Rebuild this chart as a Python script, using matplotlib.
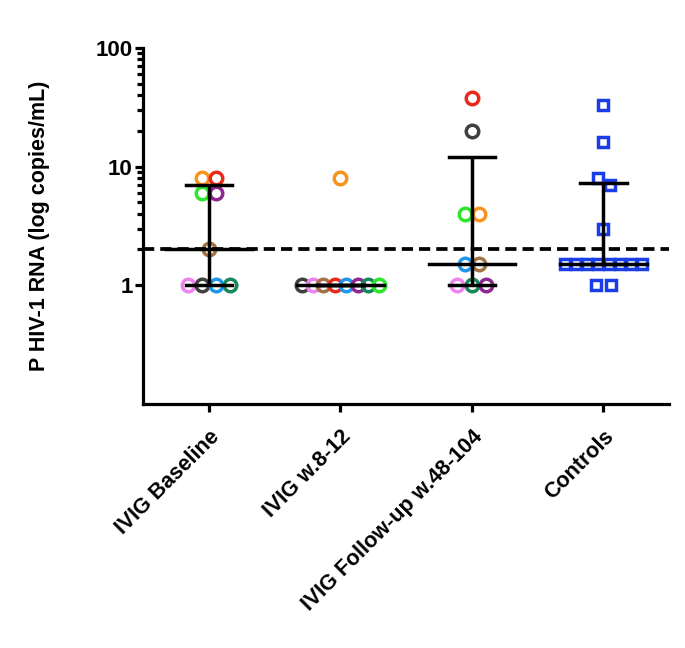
import matplotlib
matplotlib.use("Agg")
import matplotlib.pyplot as plt

plt.rcParams['font.family'] = ['Liberation Sans', 'DejaVu Sans']
plt.rcParams['font.weight'] = 'bold'

groups = ["IVIG Baseline", "IVIG w.8-12", "IVIG Follow-up w.48-104", "Controls"]

# per-patient colours (same patient = same colour)
c_orange = "#F7931E"
c_red = "#E82A1C"
c_green = "#2EE62E"
c_purple = "#8E2790"
c_brown = "#A27443"
c_pink = "#EE82EE"
c_gray = "#404040"
c_blue = "#2196E8"
c_dkgreen = "#16885A"
c_ctrl = "#1A3DE8"

# IVIG baseline
g1_vals = [8, 8, 6, 6, 2, 1, 1, 1, 1]
g1_off = [-0.05, 0.05, -0.05, 0.05, 0.0, -0.16, -0.05, 0.05, 0.16]
g1_cols = [c_orange, c_red, c_green, c_purple, c_brown, c_pink, c_gray, c_blue, c_dkgreen]

# IVIG w.8-12
g2_vals = [8, 1, 1, 1, 1, 1, 1, 1, 1]
g2_off = [0.0, -0.29, -0.21, -0.13, -0.04, 0.04, 0.13, 0.21, 0.29]
g2_cols = [c_orange, c_gray, c_pink, c_brown, c_red, c_blue, c_purple, c_dkgreen, c_green]

# IVIG follow-up
g3_vals = [38, 20, 4, 4, 1.5, 1.5, 1, 1, 1]
g3_off = [0.0, 0.0, -0.05, 0.05, -0.05, 0.05, -0.11, 0.0, 0.11]
g3_cols = [c_red, c_gray, c_green, c_orange, c_blue, c_brown, c_pink, c_dkgreen, c_purple]

# controls
g4_vals = [33, 16, 8, 7, 3, 1.5, 1.5, 1.5, 1.5, 1.5, 1.5, 1.5, 1.5, 1, 1]
g4_off = [0.0, 0.0, -0.045, 0.05, 0.0, -0.29, -0.21, -0.125, -0.04, 0.04, 0.125, 0.21, 0.29, -0.055, 0.06]

# median / range bars: (median, low, high)
medians = [2, 1, 1.5, 1.5]
lows = [1, 1, 1, 1.5]
highs = [7, 1, 12, 7.3]

cutoff = 2

fig = plt.figure(figsize=(6.85, 6.48), dpi=100)
ax = fig.add_axes([0.209, 0.377, 0.768, 0.549])

circ = dict(marker='o', markersize=9, markerfacecolor='none', markeredgewidth=2.5, linestyle='none', zorder=3)
for i, (vals, offs, cols) in enumerate([(g1_vals, g1_off, g1_cols), (g2_vals, g2_off, g2_cols), (g3_vals, g3_off, g3_cols)]):
    for v, o, c in zip(vals, offs, cols):
        ax.plot(i + o, v, markeredgecolor=c, **circ)

for v, o in zip(g4_vals, g4_off):
    ax.plot(3 + o, v, marker='s', markersize=7.8, markerfacecolor='none', markeredgecolor=c_ctrl,
            markeredgewidth=2.5, linestyle='none', zorder=3)

lw = 2.5
for i in range(4):
    ax.plot([i, i], [lows[i], highs[i]], color='black', lw=lw, zorder=4, solid_capstyle='butt')
    ax.plot([i - 0.175, i + 0.175], [highs[i], highs[i]], color='black', lw=lw, zorder=4)
    ax.plot([i - 0.175, i + 0.175], [lows[i], lows[i]], color='black', lw=lw, zorder=4)
    ax.plot([i - 0.33, i + 0.33], [medians[i], medians[i]], color='black', lw=lw, zorder=4)

ax.axhline(cutoff, color='black', lw=2.7, linestyle=(0, (3, 1.6)), zorder=5)

ax.set_yscale('log')
ax.set_ylim(0.1, 100)
ax.set_xlim(-0.5, 3.5)
ax.set_yticks([1, 10, 100])
ax.set_yticklabels(['1', '10', '100'])
ax.set_yticks([2, 3, 4, 5, 6, 7, 8, 9, 20, 30, 40, 50, 60, 70, 80, 90], minor=True)
ax.set_yticklabels([], minor=True)
ax.set_xticks(range(4))
ax.set_xticklabels(groups, rotation=45, ha='right', rotation_mode='anchor', fontsize=15.5, fontweight='bold')
ax.tick_params(axis='y', which='major', labelsize=16, width=2.3, length=6, pad=1.5)
ax.tick_params(axis='y', which='minor', width=2.3, length=4.5)
ax.tick_params(axis='x', width=2.3, length=6, pad=10)
for lab in ax.get_yticklabels():
    lab.set_fontweight('bold')

ax.spines['top'].set_visible(False)
ax.spines['right'].set_visible(False)
ax.spines['left'].set_linewidth(2.3)
ax.spines['bottom'].set_linewidth(2.3)

ax.set_ylabel('P HIV-1 RNA (log copies/mL)', fontsize=15.5, fontweight='bold', labelpad=33)

fig.savefig('out.png', dpi=100)
